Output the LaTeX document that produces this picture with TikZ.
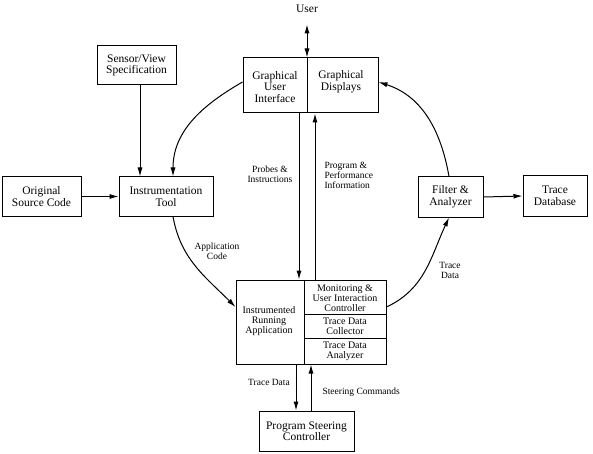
\documentclass[tikz,border=0pt]{standalone}
\usepackage{fontspec}
\setmainfont{Liberation Serif}
\usetikzlibrary{arrows.meta}
\usetikzlibrary{calc}

\begin{document}
\begin{tikzpicture}[x=1pt,y=-1pt,
    box/.style={draw,line width=1pt,inner sep=0pt},
    big/.style={font=\fontsize{11.5}{11.5}\selectfont,align=center},
    small/.style={font=\fontsize{10}{10}\selectfont,align=center},
    lbl/.style={font=\fontsize{9.5}{10}\selectfont,align=center},
    arr/.style={line width=1pt,-{Latex[length=9pt,width=5pt]}}]
      \useasboundingbox (0,0) rectangle (593,454);

      \node[box,minimum width=135pt,minimum height=55pt] (gui) at (310.5,85.5) {};
      \node[box,minimum width=79pt,minimum height=39pt] (sensor) at (136.5,65.5) {};
      \node[box,minimum width=94pt,minimum height=39pt] (instr) at (166,196.5) {};
      \node[box,minimum width=79pt,minimum height=39pt] (orig) at (41.5,196.5) {};
      \node[box,minimum width=65pt,minimum height=40pt] (filter) at (450.5,197) {};
      \node[box,minimum width=64pt,minimum height=40pt] (tracedb) at (555,196) {};
      \node[box,minimum width=150pt,minimum height=84pt] (run) at (311,322) {};
      \node[box,minimum width=95pt,minimum height=40pt] (steer) at (306.5,431) {};

      \coordinate (guidiv) at (307,0);
      \coordinate (rundiv) at (304,0);
      \coordinate (rowa) at (0,314);
      \coordinate (rowb) at (0,338);
      \draw[line width=1pt] (gui.north -| guidiv) -- (gui.south -| guidiv);
      \draw[line width=1pt] (run.north -| rundiv) -- (run.south -| rundiv);
      \draw[line width=1pt] (rundiv |- rowa) -- (run.east |- rowa);
      \draw[line width=1pt] (rundiv |- rowb) -- (run.east |- rowb);

      \node[big] (user) at (307,9) {User};
      \node[big] (guitxt) at (275,87) {Graphical\\User\\Interface};
      \node[big] (disptxt) at (341,82) {Graphical\\Displays};
      \node[big] (sensortxt) at (136.5,65.5) {Sensor/View\\Specification};
      \node[big] (instrtxt) at (166,196.5) {Instrumentation\\Tool};
      \node[big] (origtxt) at (41.5,196.5) {Original\\Source Code};
      \node[big] (filtertxt) at (450.5,197) {Filter \&\\Analyzer};
      \node[big] (tracedbtxt) at (555,196) {Trace\\Database};
      \node[big] (steertxt) at (306.5,431) {Program Steering\\Controller};
      \node[small] (runtxt) at (269,321) {Instrumented\\Running\\Application};
      \node[small] (mon) at (345,298) {Monitoring \&\\User Interaction\\Controller};
      \node[small] (coll) at (345,326) {Trace Data\\Collector};
      \node[small] (anl) at (345,351) {Trace Data\\Analyzer};

      \draw[line width=1pt,{Latex[length=9pt,width=5pt]}-{Latex[length=9pt,width=5pt]}]
        ([yshift=-8pt]user.south) -- (user.south |- gui.north);
      \draw[arr] ([xshift=-26pt]instr.north |- sensor.south) -- ([xshift=-26pt]instr.north);
      \draw[arr] (orig.east) -- (instr.west);
      \draw[arr] (filter.east) -- (tracedb.west);
      \draw[arr] ([yshift=3.5pt]gui.west) to[out=210,in=90] ([xshift=7pt]instr.north);
      \draw[arr] ([xshift=7pt]instr.south) to[out=-80,in=135] ([yshift=15pt]run.west);
      \draw[arr] ([yshift=15pt]run.east) to[out=25,in=-115] ([xshift=-1.5pt]filter.south);
      \draw[arr] ([xshift=-1.5pt]filter.north) to[out=100,in=-18] ([yshift=3.5pt]gui.east);
      \draw[arr] ([xshift=-11.5pt]gui.south) -- ([xshift=-12pt]run.north);
      \draw[arr] ([xshift=4pt]run.north) -- ([xshift=4.5pt]gui.south);
      \draw[arr] ([xshift=-15pt]run.south) -- ([xshift=-10.5pt]steer.north);
      \draw[arr] ([xshift=4.5pt]steer.north) -- (run.south);

      \node[lbl] (probelbl) at (270,174) {Probes \&\\Instructions};
      \node[lbl,anchor=west,align=left] (proglbl) at (321,175) {Program \&\\Performance\\Information};
      \node[lbl] (applbl) at (217,251) {Application\\Code};
      \node[lbl] (tdlbl) at (450,270) {Trace\\Data};
      \node[lbl] (tdlbl2) at (269,382) {Trace Data};
      \node[lbl,anchor=west] (steerlbl) at (319,392) {Steering Commands};
  \end{tikzpicture}
\end{document}
